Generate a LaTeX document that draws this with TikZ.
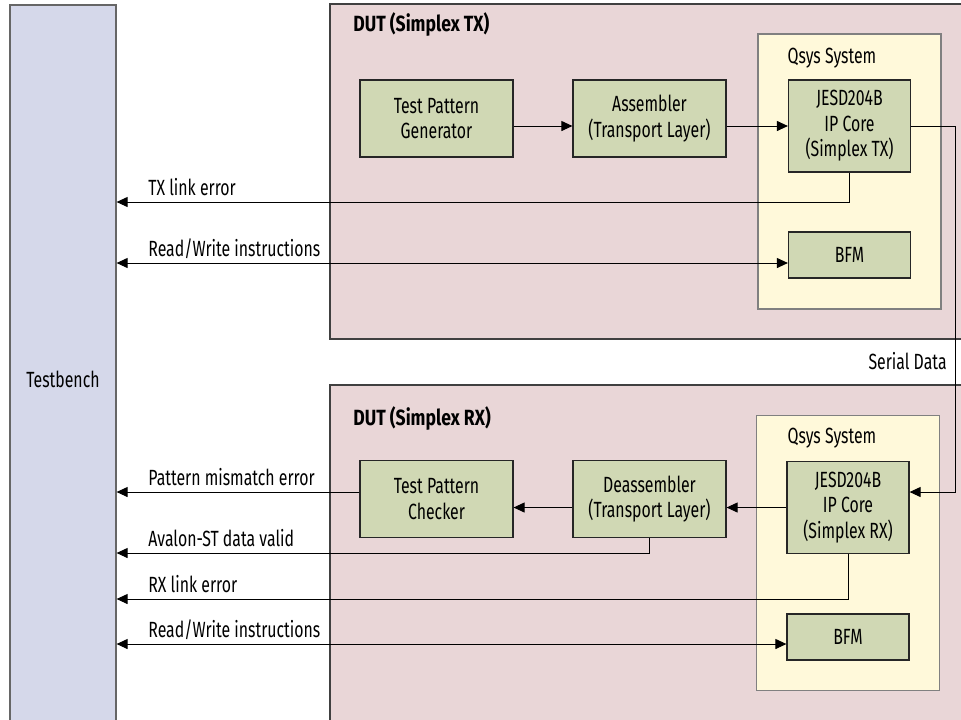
\documentclass[tikz,border=0pt]{standalone}
\usepackage{fontspec}
\setmainfont{Fira Sans}[FakeStretch=0.72, BoldFeatures={FakeStretch=0.8}]
\usetikzlibrary{arrows.meta}
\definecolor{tbfill}{HTML}{D5D8EA}
\definecolor{dutfill}{HTML}{E9D6D7}
\definecolor{qsysfill}{HTML}{FFF9DA}
\definecolor{blkfill}{HTML}{D0D8B4}
\newcommand{\siglabel}[3]{\node[lbl] (#1) at (148, #2) {#3};}
\tikzset{
  x=0.5pt, y=-0.5pt,
  every node/.style={font=\fontsize{11}{12.7}\selectfont},
  blk/.style={draw=black!85, fill=blkfill, line width=0.6pt, align=center, inner sep=0pt, minimum width=76.5pt, minimum height=38.5pt},
  core/.style={blk, minimum width=61pt, minimum height=46pt},
  bfm/.style={blk, minimum width=61pt, minimum height=23pt},
  qsys/.style={draw=black!50, fill=qsysfill, line width=0.6pt, inner sep=0pt, minimum width=91.5pt, minimum height=137.5pt},
  dut/.style={draw=black!75, fill=dutfill, line width=0.6pt, inner sep=0pt, minimum width=340pt},
  sig/.style={-{Triangle[length=5.5pt,width=5pt]}, line width=0.5pt},
  sigboth/.style={{Triangle[length=5.5pt,width=5pt]}-{Triangle[length=5.5pt,width=5pt]}, line width=0.5pt},
  lbl/.style={anchor=base west, inner sep=0pt},
  dutlbl/.style={anchor=west, inner sep=0pt, font=\fontsize{11}{12.7}\selectfont\bfseries},
}
\begin{document}
\begin{tikzpicture}
    \useasboundingbox (0,0) rectangle (961,719);
    % testbench
    \node[draw=black!60, fill=tbfill, line width=0.6pt, inner sep=0pt, minimum width=53pt, minimum height=374pt] (tb) at (63,379) {Testbench};
    % dut tx
    \node[dut, minimum height=167.5pt] (duttx) at (670,171.5) {};
    \node[dutlbl] (duttxl) at (353,24) {DUT (Simplex TX)};
    \node[qsys] (qtx) at (849.5,171.5) {};
    \node[inner sep=0pt] (qtxl) at (832,58) {Qsys System};
    \node[blk] (tpg) at (436.5,118.5) {Test Pattern\\Generator};
    \node[blk] (asm) at (649.5,118.5) {Assembler\\(Transport Layer)};
    \node[core] (jtx) at (849.5,126) {JESD204B\\IP Core\\(Simplex TX)};
    \node[bfm] (bfmtx) at (849.5,255) {BFM};
    % dut rx
    \node[dut, minimum height=187.5pt] (dutrx) at (670,572.5) {};
    \node[dutlbl] (dutrxl) at (353,418) {DUT (Simplex RX)};
    \node[qsys] (qrx) at (848,553) {};
    \node[inner sep=0pt] (qrxl) at (832,438) {Qsys System};
    \node[blk] (tpc) at (436.5,499) {Test Pattern\\Checker};
    \node[blk] (dsm) at (649.5,499) {Deassembler\\(Transport Layer)};
    \node[core] (jrx) at (848,507.5) {JESD204B\\IP Core\\(Simplex RX)};
    \node[bfm] (bfmrx) at (848,637) {BFM};
    % tx datapath
    \draw[sig] (tpg.east |- jtx.west) -- (asm.west |- jtx.west);
    \draw[sig] (asm.east |- jtx.west) -- (jtx.west);
    % serial data
    \draw[sig] (jtx.east) -- ++(44,0) |- (jrx.east |- 0,492);
    \node[anchor=base east, inner sep=0pt] (serl) at (947,369) {Serial Data};
    % rx datapath
    \draw[sig] (jrx.west) -- (dsm.east |- jrx.west);
    \draw[sig] (dsm.west |- jrx.west) -- (tpc.east |- jrx.west);
    % to testbench
    \draw[sig] (jtx.south) |- (tb.east |- 0,202);
    \siglabel{txerr}{195}{TX link error}
    \draw[sigboth] (tb.east |- 0,263) -- (bfmtx.west |- 0,263);
    \siglabel{rwtx}{256}{Read/Write instructions}
    \draw[sig] (tpc.west |- 0,492) -- (tb.east |- 0,492);
    \siglabel{mism}{485}{Pattern mismatch error}
    \draw[sig] (dsm.south) |- (tb.east |- 0,553);
    \siglabel{valid}{546}{Avalon-ST data valid}
    \draw[sig] (jrx.south) |- (tb.east |- 0,599);
    \siglabel{rxerr}{592}{RX link error}
    \draw[sigboth] (tb.east |- 0,644) -- (bfmrx.west |- 0,644);
    \siglabel{rwrx}{637}{Read/Write instructions}
\end{tikzpicture}
\end{document}
